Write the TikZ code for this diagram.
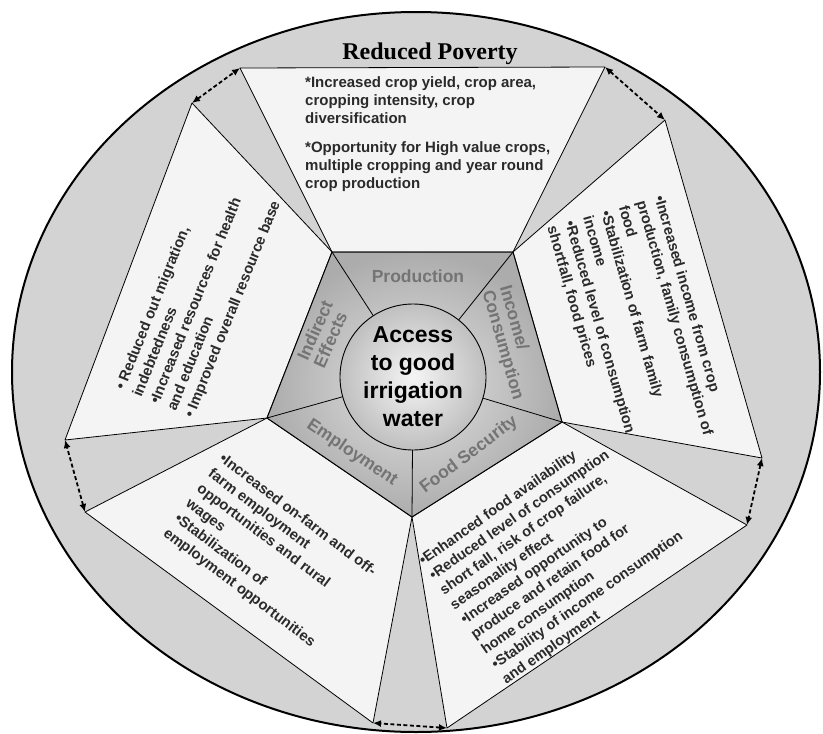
\documentclass[tikz,border=0pt]{standalone}
\usepackage{fontspec}
\setmainfont{Liberation Serif}
\setsansfont{Liberation Sans}
\usetikzlibrary{arrows.meta}

\definecolor{ringgray}{HTML}{D3D3D3}
\definecolor{boxfill}{HTML}{F4F4F4}
\definecolor{labgray}{HTML}{747474}
\definecolor{txtgray}{HTML}{2A2A2A}

\begin{document}
\begin{tikzpicture}[
        x=1pt, y=-1pt,
        >={Latex[length=8pt,width=7pt]},
        font=\sffamily\bfseries,
        effect/.style={fill=boxfill, draw=black, line width=0.8pt, line join=round},
        sector/.style={labgray, font=\sffamily\bfseries\fontsize{17.5}{18}\selectfont, inner sep=0pt},
        bullets/.style={txtgray, font=\sffamily\bfseries\fontsize{15}{18}\selectfont, align=left, inner sep=0pt, anchor=north west},
        tilted/.style={bullets, font=\sffamily\bfseries\fontsize{14.8}{18.6}\selectfont},
        link/.style={<->, line width=1.8pt, dash pattern=on 4pt off 2.5pt}
    ]
    \useasboundingbox (0,0) rectangle (823,734);

    % --- 1. Outer ring ---
    \draw[fill=ringgray, line width=2pt] (416,372) ellipse [x radius=404, y radius=360];
    \node[font=\rmfamily\bfseries\fontsize{24}{24}\selectfont, anchor=base] (title) at (430,59) {Reduced Poverty};

    % --- 2. Corners ---
    \coordinate (P1) at (332,252);
    \coordinate (P2) at (513,252);
    \coordinate (P3) at (562,422);
    \coordinate (P4) at (412,517);
    \coordinate (P5) at (267,418);

    \coordinate (a1) at (240,68);
    \coordinate (a2) at (605,67);
    \coordinate (b1) at (665,120);
    \coordinate (b2) at (762,458);
    \coordinate (c1) at (747,525);
    \coordinate (c2) at (447,728);
    \coordinate (d1) at (373,723);
    \coordinate (d2) at (85,512);
    \coordinate (e1) at (65,440);
    \coordinate (e2) at (192,103);

    % --- 3. Effect boxes ---
    \draw[effect] (P1) -- (a1) -- (a2) -- (P2) -- cycle;
    \draw[effect] (P2) -- (b1) -- (b2) -- (P3) -- cycle;
    \draw[effect] (P3) -- (c1) -- (c2) -- (P4) -- cycle;
    \draw[effect] (P4) -- (d1) -- (d2) -- (P5) -- cycle;
    \draw[effect] (P5) -- (e1) -- (e2) -- (P1) -- cycle;

    % Links between boxes
    \draw[link] (e2) -- (a1);
    \draw[link] (a2) -- (b1);
    \draw[link] (b2) -- (c1);
    \draw[link] (c2) -- (d1);
    \draw[link] (d2) -- (e1);

    % --- 4. Pentagon and hub ---
    \shade[inner color=gray!22, outer color=gray!65] (P1) -- (P2) -- (P3) -- (P4) -- (P5) -- cycle;
    \draw[line width=1pt, line join=round] (P1) -- (P2) -- (P3) -- (P4) -- (P5) -- cycle;
    \coordinate (hub) at (413,377);
    \foreach \p in {P1,P2,P3,P4,P5}
        \draw[line width=0.8pt] (\p) -- (hub);
    \node[circle, draw, line width=0.9pt, minimum size=146pt, inner sep=0pt,
          inner color=gray!8, outer color=gray!50, align=center,
          font=\sffamily\bfseries\fontsize{23}{28}\selectfont] (access) at (hub)
        {Access\\to good\\irrigation\\water};

    \node[sector] (prod) at (418,276) {Production};
    \node[sector, rotate=-74, align=left] (inc) at (511,343) {Income/\\Consumption};
    \node[sector, rotate=37] (food) at (469,455) {Food Security};
    \node[sector, rotate=-34] (emp) at (352,453) {Employment};
    \node[sector, rotate=66, align=left] (ind) at (323,334) {Indirect\\Effects};

    % --- 5. Effect texts ---
    \node[bullets] (prodtext) at (305,76)
        {*Increased crop yield, crop area,\\cropping intensity, crop\\diversification\\[11pt]*Opportunity for High value crops,\\multiple cropping and year round\\crop production};
    \node[tilted, rotate=-74] (inctext) at (665,194)
        {•Increased income from crop\\production, family consumption of\\food\\•Stabilization of farm family\\income\\•Reduced level of consumption\\shortfall, food prices};
    \node[tilted, rotate=35, font=\sffamily\bfseries\fontsize{14.5}{18.1}\selectfont] (foodtext) at (417,557)
        {•Enhanced food availability\\•Reduced level of consumption\\short fall, risk of crop failure,\\seasonality effect\\•Increased opportunity to\\produce and retain food for\\home consumption\\•Stability of income consumption\\and employment};
    \node[tilted, rotate=-37] (emptext) at (225,452)
        {•Increased on-farm and off-\\farm employment\\opportunities and rural\\wages\\•Stabilization of\\employment opportunities};
    \node[tilted, rotate=68] (indtext) at (114,387)
        {• Reduced out migration,\\indebtedness\\•Increased resources for health\\and education\\• Improved overall resource base};

\end{tikzpicture}
\end{document}
